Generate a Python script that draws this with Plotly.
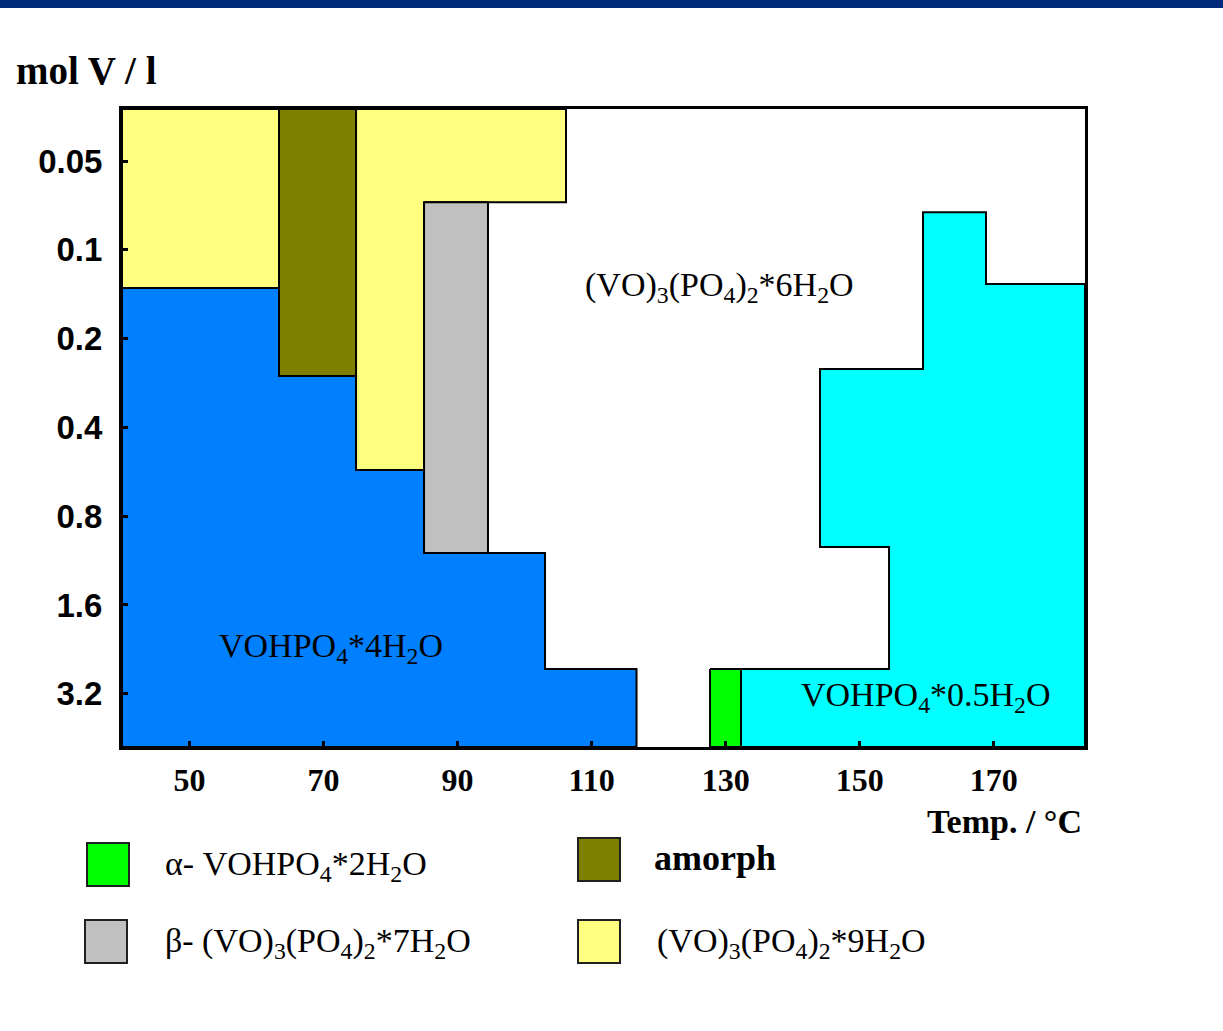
import math
import plotly.graph_objects as go

# ---------------- data (temperature in degC, concentration in mol V / l) ----------------
T_MIN, T_MAX = 39.93, 183.62          # extent of the diagram (x)
C_TOP, C_BOT = 0.0333, 4.85           # extent of the diagram (y, log)

x_ticks = [50, 70, 90, 110, 130, 150, 170]
y_ticks = [0.05, 0.1, 0.2, 0.4, 0.8, 1.6, 3.2]
y_ticktext = ["0.05", "0.1", "0.2", "0.4", "0.8", "1.6", "3.2"]

# phase regions (polygon vertices: temperature, concentration)
blue_T = [T_MIN, 63.36, 63.36, 74.85, 74.85, 85.0, 85.0, 103.05, 103.05, 116.7, 116.7, T_MIN]
blue_C = [0.1347, 0.1347, 0.268, 0.268, 0.558, 0.558, 1.066, 1.066, 2.64, 2.64, C_BOT, C_BOT]

yellow1_T = [T_MIN, 63.36, 63.36, T_MIN]
yellow1_C = [C_TOP, C_TOP, 0.1347, 0.1347]

yellow2_T = [74.85, 106.18, 106.18, 85.0, 85.0, 74.85]
yellow2_C = [C_TOP, C_TOP, 0.0689, 0.0689, 0.558, 0.558]

amorph_T = [63.36, 74.85, 74.85, 63.36]
amorph_C = [C_TOP, C_TOP, 0.268, 0.268]

gray_T = [85.0, 94.54, 94.54, 85.0]
gray_C = [0.0689, 0.0689, 1.066, 1.066]

green_T = [127.67, 132.29, 132.29, 127.67]
green_C = [2.64, 2.64, C_BOT, C_BOT]

cyan_T = [132.29, 154.38, 154.38, 144.08, 144.08, 159.45, 159.45, 168.85, 168.85, T_MAX, T_MAX, 132.29]
cyan_C = [2.64, 2.64, 1.017, 1.017, 0.2536, 0.2536, 0.0745, 0.0745, 0.1306, 0.1306, C_BOT, C_BOT]

region_labels = [
    "(VO)<sub>3</sub>(PO<sub>4</sub>)<sub>2</sub>*6H<sub>2</sub>O",
    "VOHPO<sub>4</sub>*4H<sub>2</sub>O",
    "VOHPO<sub>4</sub>*0.5H<sub>2</sub>O",
]
region_label_T = [129.1, 71.1, 159.9]
region_label_C = [0.1337, 2.238, 3.28]

legend_labels = [
    "α- VOHPO<sub>4</sub>*2H<sub>2</sub>O",
    "<b>amorph</b>",
    "β- (VO)<sub>3</sub>(PO<sub>4</sub>)<sub>2</sub>*7H<sub>2</sub>O",
    "(VO)<sub>3</sub>(PO<sub>4</sub>)<sub>2</sub>*9H<sub>2</sub>O",
]

# ---------------- styling ----------------
C_BLUE = "#0080ff"
C_YELLOW = "#ffff80"
C_OLIVE = "#808000"
C_GRAY = "#c0c0c0"
C_GREEN = "#00ff00"
C_CYAN = "#00ffff"
legend_colors = [C_GREEN, C_OLIVE, C_GRAY, C_YELLOW]

W, H = 1223, 1031
ML, MR, MT, MB = 122, 138, 109, 284
PW, PH = W - ML - MR, H - MT - MB


def px(x):
    return (x - ML) / PW


def py(y):
    return 1 - (y - MT) / PH


SERIF = "Liberation Serif"

fig = go.Figure()

regions = [
    (blue_T, blue_C, C_BLUE),
    (yellow1_T, yellow1_C, C_YELLOW),
    (yellow2_T, yellow2_C, C_YELLOW),
    (amorph_T, amorph_C, C_OLIVE),
    (gray_T, gray_C, C_GRAY),
    (green_T, green_C, C_GREEN),
    (cyan_T, cyan_C, C_CYAN),
]
for tx, cy, col in regions:
    fig.add_trace(go.Scatter(
        x=tx + [tx[0]], y=cy + [cy[0]], mode="lines", fill="toself",
        fillcolor=col, line=dict(color="black", width=2),
        hoverinfo="skip", showlegend=False,
    ))

for txt, tx, cy in zip(region_labels, region_label_T, region_label_C):
    fig.add_annotation(x=tx, y=math.log10(cy), text=txt, showarrow=False,
                       xref="x", yref="y", xanchor="center", yanchor="middle",
                       font=dict(family=SERIF, size=34, color="black"))

shapes = []
# top navy band
shapes.append(dict(type="rect", xref="paper", yref="paper",
                   x0=px(0), x1=px(W), y0=py(8), y1=py(0),
                   fillcolor="#002a7a", line=dict(width=0), layer="above"))

# legend swatches + labels
sw_x = [87, 578, 85, 578]
sw_y = [843, 838, 920, 920]
lab_x = [163, 652, 163, 655]
lab_y = [866, 858, 943, 943]
for i, lab in enumerate(legend_labels):
    shapes.append(dict(type="rect", xref="paper", yref="paper",
                       x0=px(sw_x[i]), x1=px(sw_x[i] + 42),
                       y0=py(sw_y[i] + 43), y1=py(sw_y[i]),
                       fillcolor=legend_colors[i], line=dict(color="#202020", width=2)))
    fig.add_annotation(x=px(lab_x[i]), y=py(lab_y[i]), xref="paper", yref="paper",
                       text=lab, showarrow=False, xanchor="left", yanchor="middle",
                       font=dict(family=SERIF, size=34 if i != 1 else 36, color="black"))

# axis titles
fig.add_annotation(x=px(14), y=py(70), xref="paper", yref="paper", text="<b>mol V / l</b>",
                   showarrow=False, xanchor="left", yanchor="middle",
                   font=dict(family=SERIF, size=39, color="black"))
fig.add_annotation(x=px(1084), y=py(821), xref="paper", yref="paper", text="<b>Temp. / °C</b>",
                   showarrow=False, xanchor="right", yanchor="middle",
                   font=dict(family=SERIF, size=34, color="black"))

fig.update_layout(
    width=W, height=H,
    margin=dict(l=ML, r=MR, t=MT, b=MB, pad=0),
    paper_bgcolor="white", plot_bgcolor="white",
    showlegend=False, hovermode=False,
    shapes=shapes,
    xaxis=dict(range=[T_MIN, T_MAX], tickvals=x_ticks, ticktext=[str(v) for v in x_ticks],
               ticks="inside", ticklen=6, tickwidth=3, tickcolor="black",
               showline=True, linecolor="black", linewidth=3, mirror=True,
               showgrid=False, zeroline=False, ticklabelstandoff=3,
               tickfont=dict(family=SERIF, size=32, color="black", weight="bold")),
    yaxis=dict(type="log", range=[math.log10(C_BOT), math.log10(C_TOP)],
               tickvals=y_ticks, ticktext=y_ticktext,
               ticks="inside", ticklen=6, tickwidth=3, tickcolor="black",
               showline=True, linecolor="black", linewidth=3, mirror=True,
               showgrid=False, zeroline=False, ticklabelstandoff=10,
               tickfont=dict(family="Liberation Sans", size=33, color="black", weight="bold")),
)

fig.write_html("out.html",
               config={"displayModeBar": False, "staticPlot": True},
               post_script="document.body.style.margin='0px';document.body.style.overflow='hidden';")
